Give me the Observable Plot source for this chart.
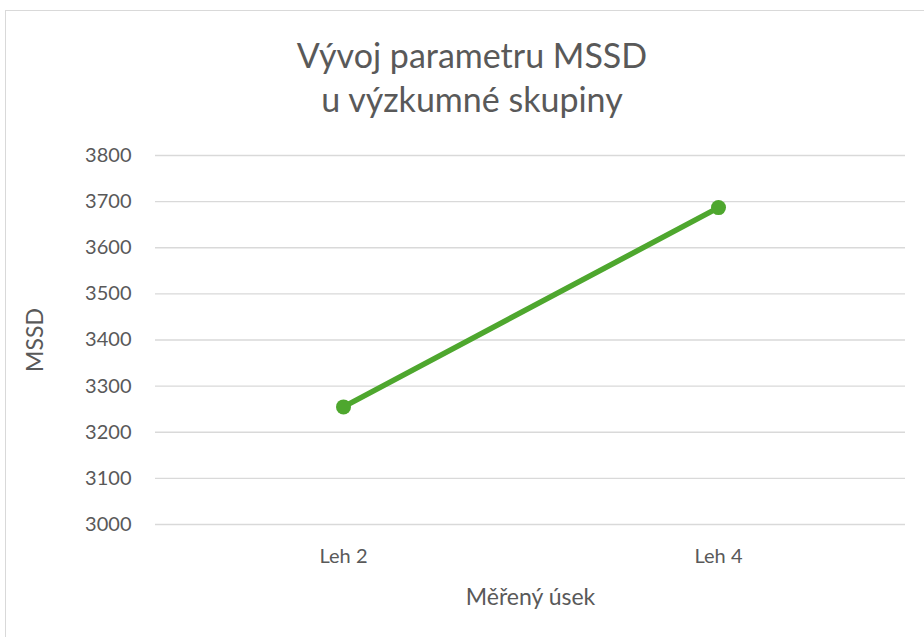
<!DOCTYPE html>
<html>
<head>
<meta charset="utf-8">
<script src="https://cdn.jsdelivr.net/npm/d3@7"></script>
<script src="https://cdn.jsdelivr.net/npm/@observablehq/plot@0.6"></script>
<style>
  html, body { margin: 0; padding: 0; background: #fff; }
  #wrap { position: relative; width: 924px; height: 637px; overflow: hidden; font-family: Lato, "Open Sans", sans-serif; color: #595959; }
  #frame { position: absolute; left: 5px; top: 10px; width: 940px; height: 660px; border: 1px solid #d9d9d9; box-sizing: border-box; }
  #title { position: absolute; left: 0; top: 33px; width: 944px; text-align: center; font-size: 34px; line-height: 44px; color: #595959; }
  #chart { position: absolute; left: 0; top: 130px; }
</style>
</head>
<body>
<div id="wrap">
  <div id="frame"></div>
  <div id="title">Vývoj parametru MSSD<br>u výzkumné skupiny</div>
  <div id="chart"></div>
</div>
<script>
const categories = ["Leh 2", "Leh 4"];
const values = [3255, 3687];
const yTicks = [3000, 3100, 3200, 3300, 3400, 3500, 3600, 3700, 3800];
const xTitle = "Měřený úsek";
const yTitle = "MSSD";

const data = categories.map((c, i) => ({cat: c, v: values[i]}));

const plot = Plot.plot({
  width: 924,
  height: 507,
  marginTop: 25,
  marginBottom: 113,
  marginLeft: 155,
  marginRight: 19,
  style: { fontFamily: "Lato, 'Open Sans', sans-serif", fontSize: "20px", color: "#595959", background: "transparent" },
  x: { type: "point", domain: categories, padding: 0.5, label: null },
  y: { domain: [3000, 3800], ticks: yTicks, label: null },
  marks: [
    Plot.ruleY(yTicks, { stroke: "#d9d9d9", strokeWidth: 1.3 }),
    Plot.axisY({ ticks: yTicks, tickSize: 0, tickPadding: 24, tickFormat: d => String(d), fill: "#595959", fontSize: 20, label: null }),
    Plot.axisX({ tickSize: 0, tickPadding: 24, fill: "#595959", fontSize: 20, label: null }),
    Plot.text([xTitle], { frameAnchor: "bottom", dy: 80, fontSize: 23, fill: "#595959" }),
    Plot.text([yTitle], { frameAnchor: "left", textAnchor: "middle", dx: -120, rotate: -90, fontSize: 23, fill: "#595959" }),
    Plot.line(data, { x: "cat", y: "v", stroke: "#4ea72e", strokeWidth: 5.5, strokeLinecap: "round" }),
    Plot.dot(data, { x: "cat", y: "v", r: 7.5, fill: "#4ea72e", stroke: "none" })
  ]
});
document.getElementById("chart").appendChild(plot);
</script>
</body>
</html>
